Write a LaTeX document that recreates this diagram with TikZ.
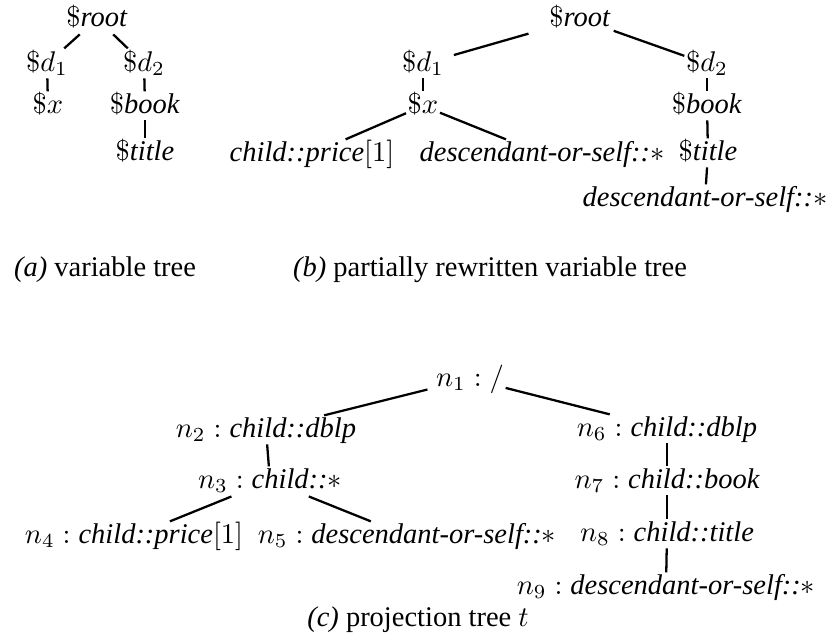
\documentclass[tikz,border=0pt]{standalone}
\usepackage[no-math]{fontspec}
\setmainfont{Liberation Serif}
\newcommand{\dl}{\(\$\)}
\begin{document}
\begin{tikzpicture}[x=0.351pt,y=-0.351pt,
  lab/.style={anchor=base,inner sep=0pt,outer sep=0.6pt,text height=7pt,text depth=2pt},
  captxt/.style={anchor=base,inner sep=0pt},
  ln/.style={line width=0.8pt}]
\useasboundingbox (0,0) rectangle (836,640);
% (a)
\node[lab] (ra) at (97,26) {\dl\textit{root}};
\node[lab] (a1) at (47,71) {\dl\(d_1\)};
\node[lab] (a2) at (144,71) {\dl\(d_2\)};
\node[lab] (ax) at (48,113) {\dl\(x\)};
\node[lab] (ab) at (145,113) {\dl\textit{book}};
\node[lab] (at) at (145,160) {\dl\textit{title}};
\draw[ln,shorten <=0.5pt,shorten >=0.5pt] (ra) -- (a1);
\draw[ln,shorten <=0.5pt,shorten >=0.5pt] (ra) -- (a2);
\draw[ln] (a1) -- (ax);
\draw[ln] (a2) -- (ab);
\draw[ln] (ab) -- (at);
% (b)
\node[lab] (rb) at (580,26) {\dl\textit{root}};
\node[lab] (b1) at (423,71) {\dl\(d_1\)};
\node[lab] (b2) at (707,71) {\dl\(d_2\)};
\node[lab] (bx) at (423,113) {\dl\(x\)};
\node[lab] (bp) at (312,161) {\textit{child::price}\([1]\)};
\node[lab] (bd) at (542,161) {\textit{descendant-or-self::}\(*\)};
\node[lab] (bk) at (707,113) {\dl\textit{book}};
\node[lab] (bt) at (708,160) {\dl\textit{title}};
\node[lab] (be) at (705,206) {\textit{descendant-or-self::}\(*\)};
\draw[ln,shorten <=7pt,shorten >=3pt] (rb) -- (b1);
\draw[ln,shorten <=0.5pt] (rb) -- (b2);
\draw[ln] (b1) -- (bx);
\draw[ln] (bx) -- (bp);
\draw[ln] (bx) -- (bd);
\draw[ln] (b2) -- (bk);
\draw[ln] (bk) -- (bt);
\draw[ln] (bt) -- (be);
% captions
\node[captxt] (capa) at (105,276) {\textit{(a)} variable tree};
\node[captxt] (capb) at (490,276) {\textit{(b)} partially rewritten variable tree};
% (c)
\node[lab] (c1) at (470,386) {\(n_1 : /\)};
\node[lab] (c2) at (266,437) {\(n_2 : \textit{child::dblp}\)};
\node[lab] (c3) at (270,488) {\(n_3 : \textit{child::}*\)};
\node[lab] (c4) at (134,543) {\(n_4 : \textit{child::price}[1]\)};
\node[lab] (c5) at (407,543) {\(n_5 : \textit{descendant-or-self::}*\)};
\node[lab] (c6) at (667,436) {\(n_6 : \textit{child::dblp}\)};
\node[lab] (c7) at (667,488) {\(n_7 : \textit{child::book}\)};
\node[lab] (c8) at (667,541) {\(n_8 : \textit{child::title}\)};
\node[lab] (c9) at (666,594) {\(n_9 : \textit{descendant-or-self::}*\)};
\node[captxt] (capc) at (418,626) {\textit{(c)} projection tree \(t\)};
\draw[ln,shorten <=2.5pt] (c1) -- (c2);
\draw[ln] (c1) -- (c6);
\draw[ln] (c2) -- (c3);
\draw[ln,shorten <=1pt] (c3) -- (c4);
\draw[ln,shorten <=1pt] (c3) -- (c5);
\draw[ln] (c6) -- (c7);
\draw[ln] (c7) -- (c8);
\draw[ln] (c8) -- (c9);
\end{tikzpicture}
\end{document}
